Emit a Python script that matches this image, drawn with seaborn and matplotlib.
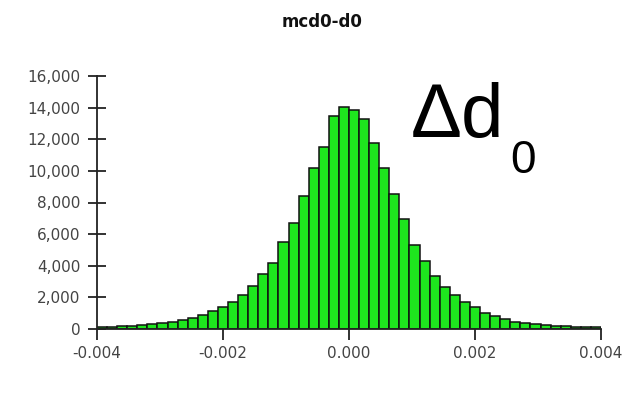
import numpy as np
import pandas as pd
import matplotlib
matplotlib.use("Agg")
import matplotlib.pyplot as plt
import seaborn as sns

# ---- data ----
x_min, x_max, n_bins = -0.004, 0.004, 50
counts = [120, 150, 180, 210, 260, 310, 380, 460, 560, 720, 900, 1150,
          1370, 1730, 2150, 2720, 3480, 4200, 5490, 6690, 8420, 10170, 11540, 13440, 14070,
          13850, 13270, 11790, 10170, 8550, 6940, 5320, 4320, 3380, 2640, 2150, 1730, 1370,
          1030, 820, 610, 470, 380, 310, 250, 210, 180, 150, 130, 110]
x_ticks = [-0.004, -0.002, 0.000, 0.002, 0.004]
x_ticklabels = ["-0.004", "-0.002", "0.000", "0.002", "0.004"]
y_ticks = [0, 2000, 4000, 6000, 8000, 10000, 12000, 14000, 16000]
y_ticklabels = ["0", "2,000", "4,000", "6,000", "8,000", "10,000", "12,000", "14,000", "16,000"]
title = "mcd0-d0"

edges = np.linspace(x_min, x_max, n_bins + 1)
centers = (edges[:-1] + edges[1:]) / 2
df = pd.DataFrame({"value": centers, "count": np.asarray(counts, dtype=float)})

sns.set_style("white")
plt.rcParams["font.family"] = ["DejaVu Sans"]

fig = plt.figure(figsize=(6.26, 3.94), dpi=100)
ax = fig.add_axes([97 / 626, 1 - 329 / 394, (601 - 97) / 626, (329 - 76) / 394])

sns.histplot(data=df, x="value", weights="count", bins=n_bins, binrange=(x_min, x_max),
             ax=ax, color="#1ee61e", edgecolor="#111111", linewidth=1.1, alpha=1.0)

ax.set_xlim(x_min, x_max)
ax.set_ylim(0, 16000)
ax.set_xticks(x_ticks)
ax.set_xticklabels(x_ticklabels)
ax.set_yticks(y_ticks)
ax.set_yticklabels(y_ticklabels)
ax.set_xlabel("")
ax.set_ylabel("")

for s in ["top", "right"]:
    ax.spines[s].set_visible(False)
for s in ["left", "bottom"]:
    ax.spines[s].set_color("#222222")
    ax.spines[s].set_linewidth(1.3)

ax.tick_params(axis="y", which="major", left=True, direction="inout", length=13, width=1.3,
               color="#222222", pad=5.5, labelsize=11, labelcolor="#444444")
ax.tick_params(axis="x", which="major", bottom=True, direction="out", length=8, width=1.3,
               color="#222222", pad=4, labelsize=11, labelcolor="#444444")

fig.text(322 / 626, 1 - 22 / 394, title, ha="center", va="center",
         fontsize=12, fontweight="bold", color="#111111")

fig.text(411 / 626, 1 - 137 / 394, "\u0394d", ha="left", va="baseline",
         fontsize=55, family=["Liberation Sans", "DejaVu Sans"], color="black")
fig.text(510 / 626, 1 - 173 / 394, "0", ha="left", va="baseline",
         fontsize=33, family=["Liberation Sans", "DejaVu Sans"], color="black")

fig.savefig("out.png", dpi=100, facecolor="white")
